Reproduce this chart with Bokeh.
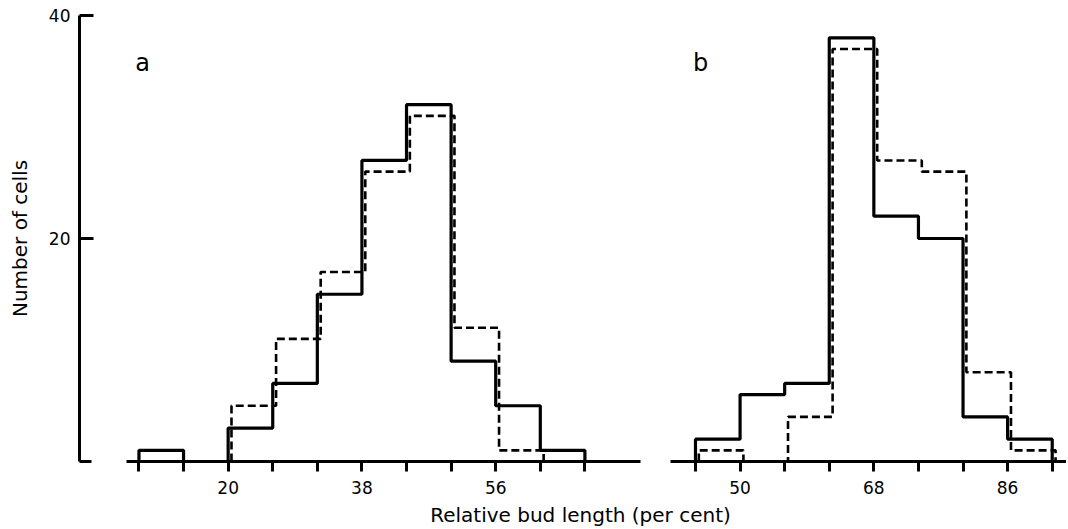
from bokeh.plotting import figure
from bokeh.models import Range1d, FixedTicker, Label
from bokeh.layouts import row, column
from bokeh.embed import file_html
from bokeh.resources import INLINE

# ---- data ----
a_edges = [8, 14, 20, 26, 32, 38, 44, 50, 56, 62, 68]
a_solid = [1, 0, 3, 7, 15, 27, 32, 9, 5, 1]
a_dashed = [0, 0, 5, 11, 17, 26, 31, 12, 1, 0]

b_edges = [44, 50, 56, 62, 68, 74, 80, 86, 92]
b_solid = [2, 6, 7, 38, 22, 20, 4, 2]
b_dashed = [1, 0, 4, 37, 27, 26, 8, 1]

a_tick_labels = [20, 38, 56]
a_minor_ticks = [8, 14, 26, 32, 44, 50, 62, 68]
b_tick_labels = [50, 68, 86]
b_minor_ticks = [44, 56, 62, 74, 80, 92]
y_tick_labels = [20, 40]
y_minor_ticks = [0]

FONT = "DejaVu Sans"
DASH_SHIFT = 0.45  # small hand-drawn offset of the dashed outline


def outline(edges, counts, dx=0.0):
    nz = [i for i, c in enumerate(counts) if c > 0]
    i0, i1 = nz[0], nz[-1] + 1
    xs, ys = [edges[i0] + dx], [0]
    for i in range(i0, i1):
        xs += [edges[i] + dx, edges[i + 1] + dx]
        ys += [counts[i], counts[i]]
    xs.append(edges[i1] + dx)
    ys.append(0)
    return xs, ys


def style_xaxis(p, ticks, minor, bounds):
    ax = p.xaxis[0]
    ax.ticker = FixedTicker(ticks=ticks, minor_ticks=minor)
    ax.bounds = bounds
    ax.axis_line_width = 3
    ax.axis_line_color = "black"
    ax.major_tick_in = 0
    ax.major_tick_out = 10
    ax.minor_tick_in = 0
    ax.minor_tick_out = 10
    ax.major_tick_line_width = 3
    ax.minor_tick_line_width = 3
    ax.major_tick_line_color = "black"
    ax.minor_tick_line_color = "black"
    ax.major_label_text_font = FONT
    ax.major_label_text_font_size = "17px"
    ax.major_label_text_color = "black"
    ax.major_label_standoff = 9


def base_fig(width, xr, left_border, with_y):
    p = figure(width=width, height=498, x_range=Range1d(*xr), y_range=Range1d(0, 40),
               output_backend="svg", toolbar_location=None,
               min_border_left=left_border, min_border_right=0,
               min_border_top=15, min_border_bottom=37,
               y_axis_location="left" if with_y else None)
    p.xgrid.visible = False
    p.ygrid.visible = False
    p.outline_line_color = None
    p.background_fill_color = "white"
    p.border_fill_color = "white"
    return p


# ---- panel a ----
pa = base_fig(655, (0, 77.5), 79, True)
style_xaxis(pa, a_tick_labels, a_minor_ticks, (6.3, 75.5))
ya = pa.yaxis[0]
ya.ticker = FixedTicker(ticks=y_tick_labels, minor_ticks=y_minor_ticks)
ya.bounds = (0, 40)
ya.axis_line_width = 3
ya.axis_line_color = "black"
ya.major_tick_in = 14
ya.major_tick_out = 0
ya.minor_tick_in = 12
ya.minor_tick_out = 0
ya.major_tick_line_width = 3
ya.minor_tick_line_width = 3
ya.major_tick_line_color = "black"
ya.minor_tick_line_color = "black"
ya.major_label_text_font = FONT
ya.major_label_text_font_size = "17px"
ya.major_label_text_color = "black"
ya.major_label_standoff = 9
ya.axis_label = "Number of cells"
ya.axis_label_text_font = FONT
ya.axis_label_text_font_size = "20px"
ya.axis_label_text_font_style = "normal"
ya.axis_label_text_color = "black"
ya.axis_label_standoff = 14

xs, ys = outline(a_edges, a_dashed, DASH_SHIFT)
pa.line(xs, ys, line_color="black", line_width=2.6, line_dash="8 4")
xs, ys = outline(a_edges, a_solid)
pa.line(xs, ys, line_color="black", line_width=3.2)
pa.add_layout(Label(x=8.5, y=35.7, text="a", text_align="center", text_baseline="middle",
                    text_font=FONT, text_font_size="24px", text_color="black"))

# ---- panel b ----
pb = base_fig(411, (38.62, 38.62 + 411 / 7.432), 0, False)
style_xaxis(pb, b_tick_labels, b_minor_ticks, (40.6, 100))
xs, ys = outline(b_edges, b_dashed, DASH_SHIFT)
pb.line(xs, ys, line_color="black", line_width=2.6, line_dash="8 4")
xs, ys = outline(b_edges, b_solid)
pb.line(xs, ys, line_color="black", line_width=3.2)
pb.add_layout(Label(x=44.7, y=35.7, text="b", text_align="center", text_baseline="middle",
                    text_font=FONT, text_font_size="24px", text_color="black"))

# ---- shared x-axis title ----
pl = figure(width=1066, height=29, x_range=Range1d(0, 1066), y_range=Range1d(0, 29),
            output_backend="svg", toolbar_location=None, min_border=0,
            x_axis_location=None, y_axis_location=None)
pl.outline_line_color = None
pl.xgrid.visible = False
pl.ygrid.visible = False
pl.add_layout(Label(x=580, y=13, text="Relative bud length (per cent)", text_align="center",
                    text_baseline="middle", text_font=FONT, text_font_size="20px",
                    text_color="black"))

layout = column(row(pa, pb, spacing=0), pl, spacing=0)
open("out.html", "w").write(file_html(layout, INLINE))
